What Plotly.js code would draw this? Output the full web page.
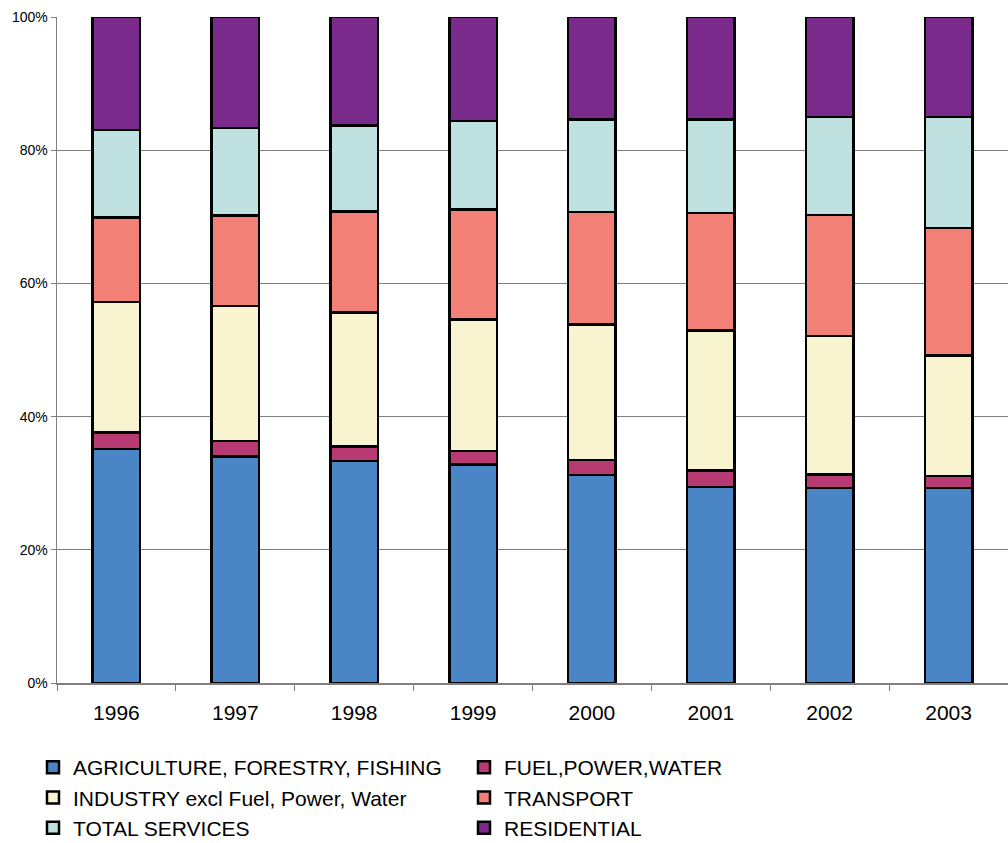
<!DOCTYPE html>
<html>
<head>
<meta charset="utf-8">
<script src="https://cdn.plot.ly/plotly-3.0.1.min.js"></script>
<style>html,body{margin:0;padding:0;background:#fff;}#chart{width:1008px;height:843px;}</style>
</head>
<body>
<div id="chart"></div>
<script>
const years = ['1996','1997','1998','1999','2000','2001','2002','2003'];
const agriculture = [35.1, 34.0, 33.3, 32.8, 31.2, 29.4, 29.3, 29.3];
const fuelPowerWater = [2.5, 2.3, 2.2, 2.0, 2.3, 2.5, 2.0, 1.8];
const industry = [19.6, 20.3, 20.1, 19.8, 20.3, 21.0, 20.8, 18.1];
const transport = [12.7, 13.6, 15.2, 16.5, 16.9, 17.7, 18.2, 19.1];
const services = [13.1, 13.1, 12.9, 13.3, 13.9, 14.0, 14.7, 16.7];
const residential = [17.0, 16.7, 16.3, 15.6, 15.4, 15.4, 15.0, 15.0];

const seriesNames = ['AGRICULTURE, FORESTRY, FISHING', 'FUEL,POWER,WATER', 'INDUSTRY excl Fuel, Power, Water', 'TRANSPORT', 'TOTAL SERVICES', 'RESIDENTIAL'];
const seriesValues = [agriculture, fuelPowerWater, industry, transport, services, residential];
const seriesColors = ['#4A86C5', '#B83A72', '#F8F4D0', '#F38077', '#BFE1E0', '#7A2A8A'];

const traces = seriesNames.map((name, i) => ({
  type: 'bar',
  name: name,
  x: years,
  y: seriesValues[i],
  width: 0.4,
  marker: {color: seriesColors[i], line: {color: '#000', width: 2.5}},
  hoverinfo: 'name+y'
}));

const layout = {
  width: 1008,
  height: 843,
  barmode: 'stack',
  barnorm: 'percent',
  margin: {l: 57, r: 0, t: 17, b: 160, pad: 0},
  paper_bgcolor: '#fff',
  plot_bgcolor: '#fff',
  font: {family: 'Liberation Sans, Arial, sans-serif', color: '#000'},
  xaxis: {
    type: 'category',
    showline: true,
    linecolor: '#808080',
    linewidth: 1.5,
    ticks: 'outside',
    tickson: 'boundaries',
    ticklen: 6,
    tickcolor: '#808080',
    tickfont: {family: 'Liberation Sans, Arial, sans-serif', size: 21, color: '#000'},
    ticklabelstandoff: 10,
    showgrid: false,
    zeroline: false
  },
  yaxis: {
    range: [0, 100],
    dtick: 20,
    tick0: 0,
    ticksuffix: '%',
    showline: true,
    linecolor: '#808080',
    linewidth: 1.5,
    ticks: 'outside',
    ticklen: 5,
    tickcolor: '#808080',
    tickfont: {family: 'Liberation Sans, Arial, sans-serif', size: 14, color: '#000'},
    showgrid: true,
    gridcolor: '#808080',
    gridwidth: 1,
    zeroline: false
  },
  showlegend: true,
  legend: {
    orientation: 'h',
    traceorder: 'normal',
    x: 33 / 1008,
    xref: 'container',
    xanchor: 'left',
    y: 1 - 747 / 843,
    yref: 'container',
    yanchor: 'top',
    entrywidthmode: 'pixels',
    entrywidth: 386,
    font: {family: 'Liberation Sans, Arial, sans-serif', size: 21, color: '#000'},
    bgcolor: 'rgba(0,0,0,0)',
    itemclick: false
  }
};

Plotly.newPlot('chart', traces, layout, {displayModeBar: false, staticPlot: true});
</script>
</body>
</html>
